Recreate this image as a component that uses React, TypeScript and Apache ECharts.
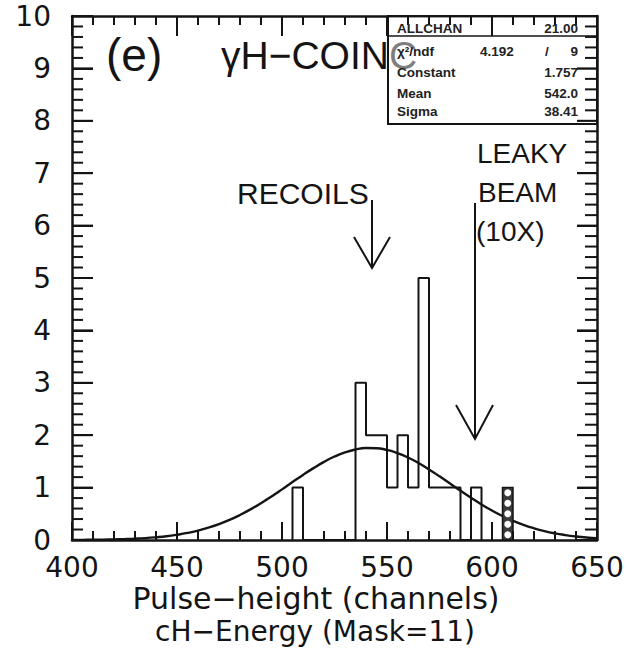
import React, { useEffect, useRef } from "react";
import * as echarts from "echarts";

// Histogram bins (channels), 5-channel wide, counts
const binStarts = [505, 510, 515, 520, 525, 530, 535, 540, 545, 550, 555, 560, 565, 570, 575, 580, 585, 590];
const binCounts = [1, 0, 0, 0, 0, 0, 3, 2, 2, 1, 2, 1, 5, 1, 1, 1, 0, 1];
const binWidth = 5;

// Leaky-beam (10X) bin, cross-hatched
const leakyStart = 605;
const leakyCount = 1;

// Gaussian fit curve (Constant 1.757, Mean 542.0, Sigma 38.41)
const fitX = [400, 405, 410, 415, 420, 425, 430, 435, 440, 445, 450, 455, 460, 465, 470, 475, 480, 485, 490, 495, 500, 505, 510, 515, 520, 525, 530, 535, 540, 545, 550, 555, 560, 565, 570, 575, 580, 585, 590, 595, 600, 605, 610, 615, 620, 625, 630, 635, 640, 645, 650];
const fitY = [0.002, 0.003, 0.005, 0.007, 0.011, 0.017, 0.025, 0.036, 0.052, 0.072, 0.1, 0.135, 0.18, 0.236, 0.303, 0.384, 0.478, 0.584, 0.703, 0.831, 0.966, 1.105, 1.242, 1.372, 1.491, 1.593, 1.673, 1.728, 1.755, 1.752, 1.719, 1.659, 1.574, 1.469, 1.347, 1.215, 1.077, 0.939, 0.805, 0.678, 0.562, 0.458, 0.367, 0.289, 0.224, 0.17, 0.127, 0.094, 0.068, 0.048, 0.034];

// Axes
const xMin = 400, xMax = 650, xStep = 50, xMinorStep = 10;
const yMin = 0, yMax = 10, yStep = 1, yMinorPerMajor = 5;

// Statistics box
const statNames = ["ALLCHAN", "χ²/ndf", "Constant", "Mean", "Sigma"];
const statValues = ["21.00", "9", "1.757", "542.0", "38.41"];
const chi2Value = "4.192";

const INK = "#141414";
const AXIS_FONT = "DejaVu Sans";
const ANN_FONT = "Liberation Sans";

export default function App() {
  const ref = useRef<HTMLDivElement>(null);
  useEffect(() => {
    if (!ref.current) return;
    const chart = echarts.init(ref.current, undefined, { renderer: "svg" });

    const histData: number[][] = [[binStarts[0], 0]];
    binStarts.forEach((s, i) => histData.push([s, binCounts[i]]));
    histData.push([binStarts[binStarts.length - 1] + binWidth, 0]);
    const fitData = fitX.map((x, i) => [x, fitY[i]]);

    // tick values on both axes
    const xTicks: number[][] = [];
    for (let v = xMin; v <= xMax; v += xMinorStep) xTicks.push([v, (v - xMin) % xStep === 0 ? 1 : 0]);
    const yTicks: number[][] = [];
    const nY = ((yMax - yMin) / yStep) * yMinorPerMajor;
    for (let k = 0; k <= nY; k++) yTicks.push([yMin + (k * yStep) / yMinorPerMajor, k % yMinorPerMajor === 0 ? 1 : 0]);

    const statRowsY = [28, 51, 72, 93, 111];
    const statFont = `bold 13.5px ${ANN_FONT}`;
    const statGraphics: any[] = [];
    statNames.forEach((n, i) => {
      statGraphics.push({ type: "text", z: 10, style: { text: n, x: 397, y: statRowsY[i], font: statFont, fill: "#222", textAlign: "left", textVerticalAlign: "middle" } });
      statGraphics.push({ type: "text", z: 10, style: { text: statValues[i], x: 578, y: statRowsY[i], font: statFont, fill: "#222", textAlign: "right", textVerticalAlign: "middle" } });
    });
    statGraphics.push({ type: "text", z: 10, style: { text: chi2Value, x: 480, y: statRowsY[1], font: statFont, fill: "#222", textVerticalAlign: "middle" } });
    statGraphics.push({ type: "text", z: 10, style: { text: "/", x: 545, y: statRowsY[1], font: statFont, fill: "#222", textVerticalAlign: "middle" } });

    const axisCommon = {
      type: "value",
      splitLine: { show: false },
      axisLine: { show: true, onZero: false, lineStyle: { color: INK, width: 2.5 } },
    };

    chart.setOption({
      animation: false,
      backgroundColor: "#ffffff",
      grid: { left: 72, right: 30, top: 16, bottom: 121 },
      xAxis: [
        {
          ...axisCommon, min: xMin, max: xMax, interval: xStep, position: "bottom",
          axisTick: { show: true, inside: true, length: 18, lineStyle: { color: INK, width: 2 } },
          axisLabel: { show: true, margin: 13, color: INK, fontFamily: AXIS_FONT, fontSize: 28 },
        },
        {
          ...axisCommon, min: xMin, max: xMax, interval: xStep, position: "top",
          axisTick: { show: true, inside: true, length: 20, lineStyle: { color: INK, width: 2 } },
          axisLabel: { show: false },
        },
      ],
      yAxis: [
        {
          ...axisCommon, min: yMin, max: yMax, interval: yStep, position: "left",
          axisTick: { show: true, inside: true, length: 21, lineStyle: { color: INK, width: 2 } },
          axisLabel: { show: true, margin: 21, color: INK, fontFamily: AXIS_FONT, fontSize: 28 },
        },
        {
          ...axisCommon, min: yMin, max: yMax, interval: yStep, position: "right",
          axisTick: { show: true, inside: true, length: 20, lineStyle: { color: INK, width: 2 } },
          axisLabel: { show: false },
        },
      ],
      series: [
        { type: "line", data: histData, step: "end", symbol: "none", z: 4, lineStyle: { color: INK, width: 2 } },
        { type: "line", data: fitData, smooth: true, symbol: "none", z: 5, lineStyle: { color: INK, width: 2.4 } },
        {
          type: "custom", z: 6,
          data: [[leakyStart, leakyStart + binWidth, leakyCount]],
          renderItem: (params: any, api: any) => {
            const p0 = api.coord([api.value(0), 0]);
            const p1 = api.coord([api.value(1), api.value(2)]);
            const x = p0[0], w = p1[0] - p0[0], yTop = p1[1], yBot = p0[1];
            const n = Math.max(1, Math.round((yBot - yTop) / w));
            const h = (yBot - yTop) / n;
            const children: any[] = [{ type: "rect", shape: { x, y: yTop, width: w, height: yBot - yTop }, style: { fill: "#3a3a3a", stroke: INK, lineWidth: 1.5 } }];
            for (let k = 0; k < n; k++) {
              children.push({ type: "circle", shape: { cx: x + w / 2, cy: yTop + h * (k + 0.5), r: Math.min(w, h) * 0.33 }, style: { fill: "#ffffff" } });
            }
            // minor and major ticks on all four sides (inside), through the axes' scales
            xTicks.forEach(([v, major]) => {
              const b = api.coord([v, yMin]);
              const t = api.coord([v, yMax]);
              const lb = major ? 18 : 9;
              const lt = major ? 20 : 9;
              children.push({ type: "rect", shape: { x: b[0] - 1, y: b[1] - lb, width: 2, height: lb }, style: { fill: INK } });
              children.push({ type: "rect", shape: { x: t[0] - 1, y: t[1], width: 2, height: lt }, style: { fill: INK } });
            });
            yTicks.forEach(([v, major]) => {
              const l = api.coord([xMin, v]);
              const r = api.coord([xMax, v]);
              const ll = major ? 21 : 11;
              const lr = major ? 20 : 12;
              children.push({ type: "rect", shape: { x: l[0], y: l[1] - 1, width: ll, height: 2 }, style: { fill: INK } });
              children.push({ type: "rect", shape: { x: r[0] - lr, y: r[1] - 1, width: lr, height: 2 }, style: { fill: INK } });
            });
            return { type: "group", children };
          },
        },
      ],
      graphic: [
        { type: "text", z: 1, style: { text: "(e)", x: 106, y: 55, font: `46px ${ANN_FONT}`, fill: INK, textAlign: "left", textVerticalAlign: "middle" } },
        { type: "text", z: 1, style: { text: "γH−COINC", x: 221, y: 55, font: `39px ${ANN_FONT}`, fill: INK, textAlign: "left", textVerticalAlign: "middle" } },
        { type: "rect", z: 2, shape: { x: 388, y: 16, width: 209, height: 108 }, style: { fill: "rgba(255,255,255,0.45)", stroke: INK, lineWidth: 2 } },
        { type: "line", z: 3, shape: { x1: 388, y1: 36, x2: 597, y2: 36 }, style: { stroke: INK, lineWidth: 1.5 } },
        ...statGraphics,
        { type: "text", style: { text: "RECOILS", x: 237, y: 193, font: `30px ${ANN_FONT}`, fill: INK, textAlign: "left", textVerticalAlign: "middle" } },
        { type: "line", shape: { x1: 372, y1: 200, x2: 372, y2: 268 }, style: { stroke: INK, lineWidth: 2 } },
        { type: "polyline", shape: { points: [[354, 237], [372, 268], [390, 237]] }, style: { stroke: INK, lineWidth: 2, fill: "none" } },
        { type: "text", style: { text: "LEAKY", x: 477, y: 153, font: `28px ${ANN_FONT}`, fill: INK, textAlign: "left", textVerticalAlign: "middle" } },
        { type: "text", style: { text: "BEAM", x: 478, y: 192, font: `28px ${ANN_FONT}`, fill: INK, textAlign: "left", textVerticalAlign: "middle" } },
        { type: "text", style: { text: "(10X)", x: 476, y: 231, font: `28px ${ANN_FONT}`, fill: INK, textAlign: "left", textVerticalAlign: "middle" } },
        { type: "line", shape: { x1: 475, y1: 203, x2: 475, y2: 439 }, style: { stroke: INK, lineWidth: 2 } },
        { type: "polyline", shape: { points: [[456, 405], [475, 439], [493, 405]] }, style: { stroke: INK, lineWidth: 2, fill: "none" } },
        { type: "text", style: { text: "Pulse−height (channels)", x: 316, y: 598, font: `30px ${AXIS_FONT}`, fill: INK, textAlign: "center", textVerticalAlign: "middle" } },
        { type: "text", style: { text: "cH−Energy (Mask=11)", x: 315, y: 631, font: `28px ${AXIS_FONT}`, fill: INK, textAlign: "center", textVerticalAlign: "middle" } },
      ],
    });
    return () => chart.dispose();
  }, []);
  return <div ref={ref} style={{ position: "fixed", left: 0, top: 0, width: 627, height: 661, background: "#fff" }} />;
}
